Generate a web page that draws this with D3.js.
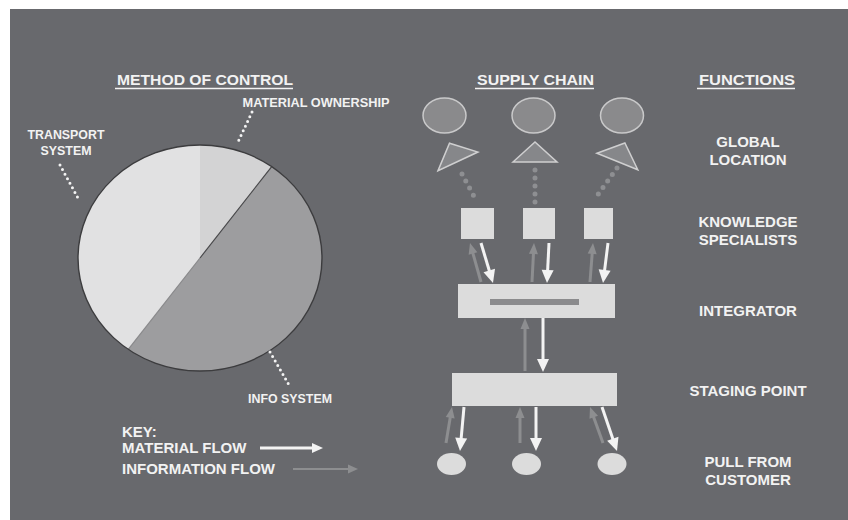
<!DOCTYPE html>
<html>
<head>
<meta charset="utf-8">
<script src="https://cdn.jsdelivr.net/npm/d3@7"></script>
<style>
  html, body { margin: 0; padding: 0; background: #fff; }
  svg { display: block; }
  text { font-family: "Liberation Sans", Arial, sans-serif; font-weight: bold; fill: #f2f2f2; }
  .narrow { font-family: "Liberation Sans Narrow", "Liberation Sans", Arial, sans-serif; }
</style>
</head>
<body>
<div id="main"></div>
<script>
/// data ///
const headings = ['METHOD OF CONTROL', 'SUPPLY CHAIN', 'FUNCTIONS'];
const sliceNames = ['MATERIAL OWNERSHIP', 'INFO SYSTEM', 'TRANSPORT SYSTEM'];
const sliceValues = [10, 50, 40];
const functions = ['GLOBAL LOCATION', 'KNOWLEDGE SPECIALISTS', 'INTEGRATOR', 'STAGING POINT', 'PULL FROM CUSTOMER'];
const keyLabels = ['MATERIAL FLOW', 'INFORMATION FLOW'];
const columns = ['west', 'middle', 'east'];

/// frame ///
const w = 848;
const h = 520;

let svg = d3.select('#main')
    .append('svg')
    .attr('width', w)
    .attr('height', h);

svg.append('rect')          // grey slide background, white margin top/left
    .attr('x', 10)
    .attr('y', 9)
    .attr('width', w - 10)
    .attr('height', h - 9)
    .attr('fill', '#68696d');

const white = '#f3f3f3';
const grey = '#8d8e90';
const light = '#dcdcdc';

// rows of the supply chain line up with the function labels
let rowY = d3.scalePoint()
    .domain(functions)
    .range([151, 471]);

/// headings ///
const headPos = [[117, 176], [477, 117], [699, 96]];     // x, width
headings.forEach((t, i) => {
    svg.append('text')
        .attr('class', 'narrow')
        .attr('x', headPos[i][0])
        .attr('y', 85)
        .attr('textLength', headPos[i][1])
        .attr('lengthAdjust', 'spacingAndGlyphs')
        .style('font-size', '15px')
        .text(t);
    svg.append('line')      // underline
        .attr('x1', headPos[i][0] - 2)
        .attr('x2', headPos[i][0] + headPos[i][1])
        .attr('y1', 88.5)
        .attr('y2', 88.5)
        .attr('stroke', white)
        .attr('stroke-width', 1.5);
});

/// pie ///
const cx = 200, cy = 258, rx = 122, ry = 113;
let pie = d3.pie().sort(null).startAngle(0).endAngle(2 * Math.PI);
let arc = d3.arc().innerRadius(0).outerRadius(rx);
const sliceColors = ['#d3d3d4', '#9d9d9f', '#e1e1e2'];

let pieG = svg.append('g')
    .attr('transform', 'translate(' + cx + ',' + cy + ') scale(1,' + (ry / rx) + ')');

pieG.selectAll('path')
    .data(pie(sliceValues))
    .enter()
    .append('path')
    .attr('d', arc)
    .attr('fill', (d, i) => sliceColors[i]);

// dark edge between info system and the rest
pieG.selectAll('line.edge')
    .data(pie(sliceValues).slice(1))
    .enter()
    .append('line')
    .attr('x1', 0).attr('y1', 0)
    .attr('x2', d => rx * Math.sin(d.startAngle))
    .attr('y2', d => -rx * Math.cos(d.startAngle))
    .attr('stroke', (d, i) => i == 0 ? '#4a4a4c' : '#8a8a8c')
    .attr('stroke-width', 1.2);

pieG.append('ellipse')
    .attr('rx', rx).attr('ry', rx)
    .attr('fill', 'none')
    .attr('stroke', '#3c3c3e')
    .attr('stroke-width', 1.4);

// slice labels with dotted leaders
const labelSpec = [
    { lines: [sliceNames[0]], x: 316, y: 107, len: [147], leader: [252, 112, 238, 142] },
    { lines: [sliceNames[1]], x: 290, y: 403, len: [84], leader: [270, 352, 289, 385] },
    { lines: ['TRANSPORT', 'SYSTEM'], x: 66, y: 139, len: [77, 51], leader: [60, 165, 78, 198] }
];
labelSpec.forEach(s => {
    s.lines.forEach((t, j) => {
        svg.append('text')
            .attr('class', 'narrow')
            .attr('x', s.x)
            .attr('y', s.y + j * 16)
            .attr('text-anchor', 'middle')
            .attr('textLength', s.len[j])
            .attr('lengthAdjust', 'spacingAndGlyphs')
            .style('font-size', '12px')
            .text(t);
    });
    svg.append('line')
        .attr('x1', s.leader[0]).attr('y1', s.leader[1])
        .attr('x2', s.leader[2]).attr('y2', s.leader[3])
        .attr('stroke', white)
        .attr('stroke-width', 3)
        .attr('stroke-linecap', 'round')
        .attr('stroke-dasharray', '0,5.2');
});

/// arrows ///
let arrow = (g, x1, y1, x2, y2, color, sw, hl, hw) => {
    let dx = x2 - x1, dy = y2 - y1;
    let len = Math.sqrt(dx * dx + dy * dy);
    let ux = dx / len, uy = dy / len;
    let bx = x2 - ux * hl, by = y2 - uy * hl;
    g.append('line')
        .attr('x1', x1).attr('y1', y1)
        .attr('x2', bx + ux * 1).attr('y2', by + uy * 1)
        .attr('stroke', color)
        .attr('stroke-width', sw);
    g.append('path')
        .attr('d', d3.line()([[x2, y2], [bx - uy * hw / 2, by + ux * hw / 2], [bx + uy * hw / 2, by - ux * hw / 2]]) + 'Z')
        .attr('fill', color);
};

/// supply chain ///
let chain = svg.append('g');
const r0 = rowY(functions[0]);

// global locations: site circles with rotated triangles
const globalX = [444.5, 533.5, 622];
const triX = [455, 535, 620];
const triRot = [-25, 0, 22];
chain.selectAll('ellipse.site')
    .data(columns)
    .enter()
    .append('ellipse')
    .attr('cx', (d, i) => globalX[i])
    .attr('cy', r0 - 35.5)
    .attr('rx', 21.5)
    .attr('ry', 17.5)
    .attr('fill', '#8a8a8c')
    .attr('stroke', '#c9c9ca')
    .attr('stroke-width', 1.5);

chain.selectAll('path.tri')
    .data(columns)
    .enter()
    .append('path')
    .attr('d', 'M-22,7L0,-13L22,7Z')
    .attr('transform', (d, i) => 'translate(' + triX[i] + ',' + (r0 + 4) + ') rotate(' + triRot[i] + ')')
    .attr('fill', '#86878a')
    .attr('stroke', '#cfcfd0')
    .attr('stroke-width', 1.5);

// dotted links from locations down to specialists
const dotLinks = [[462, 174, 476, 200], [535, 170, 535, 206], [617, 168, 594, 200]];
dotLinks.forEach(l => {
    chain.append('line')
        .attr('x1', l[0]).attr('y1', l[1])
        .attr('x2', l[2]).attr('y2', l[3])
        .attr('stroke', '#8e8f92')
        .attr('stroke-width', 5)
        .attr('stroke-linecap', 'round')
        .attr('stroke-dasharray', '0,8');
});

// knowledge specialists
const r1 = rowY(functions[1]);
const specX = [461, 523, 584];
const specW = [33, 32, 29];
chain.selectAll('rect.spec')
    .data(columns)
    .enter()
    .append('rect')
    .attr('x', (d, i) => specX[i])
    .attr('y', r1 - 23)
    .attr('width', (d, i) => specW[i])
    .attr('height', 31)
    .attr('fill', light);

// integrator
const r2 = rowY(functions[2]);
chain.append('rect')
    .attr('x', 458).attr('y', r2 - 27)
    .attr('width', 157).attr('height', 34)
    .attr('fill', light);
chain.append('rect')
    .attr('x', 490).attr('y', r2 - 12)
    .attr('width', 89).attr('height', 6)
    .attr('fill', '#8b8b8d');

// staging point
const r3 = rowY(functions[3]);
chain.append('rect')
    .attr('x', 452).attr('y', r3 - 18)
    .attr('width', 165).attr('height', 33)
    .attr('fill', light);

// customers
const r4 = rowY(functions[4]);
const custX = [451.5, 526.5, 612];
chain.selectAll('ellipse.cust')
    .data(columns)
    .enter()
    .append('ellipse')
    .attr('cx', (d, i) => custX[i])
    .attr('cy', r4 - 7)
    .attr('rx', 14.5)
    .attr('ry', 11)
    .attr('fill', light);

// flows: [x1, y1, x2, y2, kind]
const flows = [
    [481, 282, 470, 243, 'information'], [481, 243, 493, 283, 'material'],
    [532, 282, 534, 243, 'information'], [549, 243, 547, 283, 'material'],
    [590, 282, 593, 243, 'information'], [608, 243, 603, 283, 'material'],
    [525, 371, 525, 318, 'information'], [543, 318, 543, 372, 'material'],
    [446, 443, 452, 407, 'information'], [464, 407, 460, 451, 'material'],
    [520, 443, 520, 407, 'information'], [536, 407, 536, 451, 'material'],
    [603, 443, 590, 407, 'information'], [602, 407, 617, 451, 'material']
];
flows.forEach(f => {
    if (f[4] === 'material')
        arrow(chain, f[0], f[1], f[2], f[3], white, 3, 13, 12);
    else
        arrow(chain, f[0], f[1], f[2], f[3], grey, 3, 11, 9);
});

/// function labels ///
functions.forEach(f => {
    let words = f.split(' ');
    let lines = words.length > 1 && f !== 'STAGING POINT' ? (f === 'PULL FROM CUSTOMER' ? ['PULL FROM', 'CUSTOMER'] : words) : [f];
    lines.forEach((t, j) => {
        svg.append('text')
            .attr('x', 748)
            .attr('y', rowY(f) + 5 + (j - (lines.length - 1) / 2) * 18)
            .attr('text-anchor', 'middle')
            .style('font-size', '15px')
            .text(t);
    });
});

/// key ///
svg.append('text')
    .attr('x', 122).attr('y', 437)
    .style('font-size', '15px')
    .text('KEY:');
keyLabels.forEach((t, i) => {
    svg.append('text')
        .attr('x', 122)
        .attr('y', 453 + i * 21)
        .style('font-size', '15px')
        .text(t);
});
arrow(svg, 260, 448, 323, 448, white, 3, 11, 10);
arrow(svg, 293, 469, 358, 469, grey, 2, 10, 9);
</script>
</body>
</html>
